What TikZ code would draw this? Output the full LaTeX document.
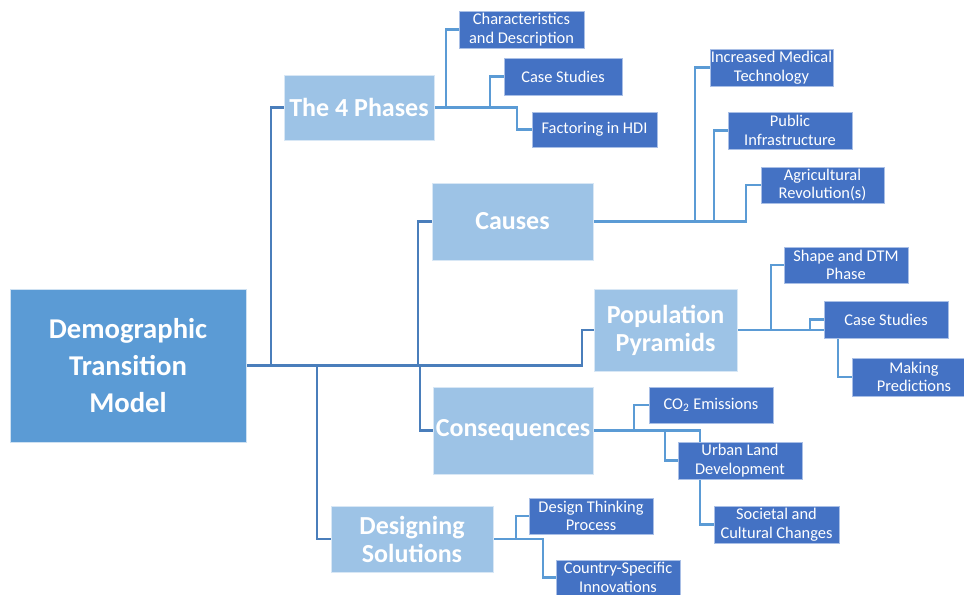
\documentclass[tikz,border=0pt]{standalone}
\usepackage{fontspec}
\setmainfont{Carlito}
\usetikzlibrary{calc}
\pgfdeclarelayer{background}
\pgfsetlayers{background,main}
\definecolor{rootfill}{HTML}{5B9BD5}
\definecolor{midfill}{HTML}{9DC3E6}
\definecolor{leaffill}{HTML}{4472C4}
\definecolor{leafedge}{HTML}{A9BFE6}
\definecolor{mainline}{HTML}{4A7EBB}
\definecolor{leafline}{HTML}{5B9BD5}
\begin{document}
\begin{tikzpicture}[x=0.75pt,y=-0.75pt,
  sz/.style 2 args={minimum width=#1*0.75pt,minimum height=#2*0.75pt},
  base/.style={anchor=north west,inner sep=0pt,outer sep=0pt,align=center,text=white},
  rootbox/.style={base,fill=rootfill,draw=white!70!rootfill,line width=0.6pt,
    font=\fontsize{21.5}{27.5}\selectfont\bfseries},
  midbox/.style={base,fill=midfill,draw=white!60!midfill,line width=0.6pt,
    font=\fontsize{19.5}{21}\selectfont\bfseries},
  leafbox/.style={base,fill=leaffill,draw=leafedge,line width=0.7pt,
    font=\fontsize{12.3}{14}\selectfont},
  trunk/.style={draw=mainline,line width=1.9pt},
  twig/.style={draw=leafline,line width=1.6pt}]
\useasboundingbox (0,0) rectangle (964,595);
\clip (0,0) rectangle (964,595);
% main nodes
\node[rootbox,sz={236}{153}] (root) at (10,289) {Demographic\\Transition\\Model};
\node[midbox,sz={150}{65}] (phases) at (284,75) {The 4 Phases};
\node[midbox,sz={161}{77}] (causes) at (432,183) {Causes};
\node[midbox,sz={143}{82}] (pyr) at (594,289) {Population\\Pyramids};
\node[midbox,sz={160}{87}] (cons) at (433,387) {Consequences};
\node[midbox,sz={162}{66}] (design) at (331,506) {Designing\\Solutions};
% leaves
\node[leafbox,sz={125}{37}] (char) at (459,11) {Characteristics\\and Description};
\node[leafbox,sz={118}{37}] (cs1) at (504,58) {Case Studies};
\node[leafbox,sz={125}{35}] (hdi) at (532,112) {Factoring in HDI};
\node[leafbox,sz={123}{37}] (med) at (710,49) {Increased Medical\\Technology};
\node[leafbox,sz={124}{37}] (pub) at (728,112) {Public\\Infrastructure};
\node[leafbox,sz={123}{36}] (agr) at (761,167) {Agricultural\\Revolution(s)};
\node[leafbox,sz={124}{36}] (shape) at (784,247) {Shape and DTM\\Phase};
\node[leafbox,sz={124}{37}] (cs2) at (824,301) {Case Studies};
\node[leafbox,sz={124}{38}] (mp) at (852,358) {Making\\Predictions};
\node[leafbox,sz={124}{36}] (co2) at (649,387) {CO\textsubscript{2} Emissions};
\node[leafbox,sz={124}{37}] (urban) at (678,442) {Urban Land\\Development};
\node[leafbox,sz={125}{37}] (soc) at (714,506) {Societal and\\Cultural Changes};
\node[leafbox,sz={124}{36}] (dtp) at (529,498) {Design Thinking\\Process};
\node[leafbox,sz={124}{35}] (csi) at (556,560) {Country-Specific\\Innovations};
% connectors
\begin{pgfonlayer}{background}
\draw[trunk] (root.east) -| ($(pyr.west)+(-12,0)$) -- (pyr.west);
\draw[trunk] ($(root.east)+(25,0)$) |- (phases.west);
\draw[trunk] ($(root.east)+(172,0)$) |- (causes.west);
\draw[trunk] ($(root.east)+(174,0)$) |- (cons.west);
\draw[trunk] ($(root.east)+(71,0)$) |- (design.west);
\draw[twig] (phases.east) -| ($(char.west)+(-13,0)$) -- (char.west);
\draw[twig] (phases.east) -| ($(cs1.west)+(-14,0)$) -- (cs1.west);
\draw[twig] (phases.east) -| ($(hdi.west)+(-15,0)$) -- (hdi.west);
\draw[twig] (causes.east) -| ($(med.west)+(-15,0)$) -- (med.west);
\draw[twig] (causes.east) -| ($(pub.west)+(-14,0)$) -- (pub.west);
\draw[twig] (causes.east) -| ($(agr.west)+(-15,0)$) -- (agr.west);
\draw[twig] (pyr.east) -| ($(shape.west)+(-13,0)$) -- (shape.west);
\draw[twig] (pyr.east) -| ($(cs2.west)+(-14,0)$) -- (cs2.west);
\draw[twig] (pyr.east) -| ($(mp.west)+(-14,0)$) -- (mp.west);
\draw[twig] (cons.east) -| ($(co2.west)+(-15,0)$) -- (co2.west);
\draw[twig] (cons.east) -| ($(urban.west)+(-13,0)$) -- (urban.west);
\draw[twig] (cons.east) -| ($(soc.west)+(-14,0)$) -- (soc.west);
\draw[twig] (design.east) -| ($(dtp.west)+(-13,0)$) -- (dtp.west);
\draw[twig] (design.east) -| ($(csi.west)+(-13,0)$) -- (csi.west);
\end{pgfonlayer}
\end{tikzpicture}
\end{document}
